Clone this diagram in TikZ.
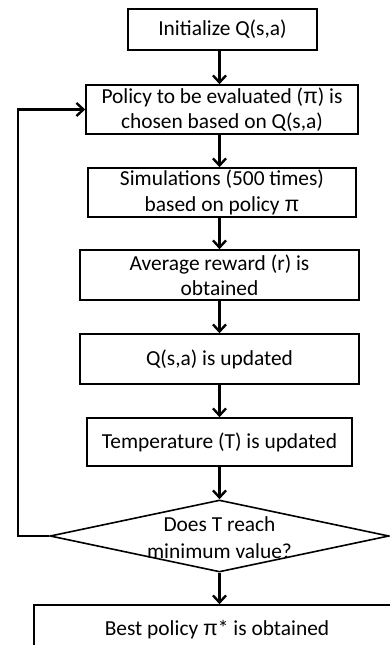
\documentclass[tikz,border=0pt]{standalone}
\usepackage{fontspec}
\setmainfont{Carlito}
\newfontfamily\pifont{Liberation Sans}
\newcommand{\mypi}{{\pifont π}}
\usetikzlibrary{shapes.geometric,arrows.meta}
\begin{document}
\begin{tikzpicture}[x=1pt,y=-1pt,
  box/.style={draw=black,line width=1.6pt,rectangle,inner sep=0pt,align=center,
    font=\fontsize{21.4}{25.5}\selectfont},
  txt/.style={inner sep=0pt,align=center,font=\fontsize{21.4}{27}\selectfont},
  arr/.style={line width=2.4pt,-{Straight Barb[length=7pt,width=13pt]}}]
\useasboundingbox (0,0) rectangle (390,645);
\begin{scope}
\clip (0,0) rectangle (390,645);
\node[box,minimum width=189pt,minimum height=41pt] (init) at (222.5,29.5) {Initialize Q(s,a)};
\node[box,minimum width=272pt,minimum height=49pt] (pol) at (222,109.5) {Policy to be evaluated (\mypi) is\\chosen based on Q(s,a)};
\node[box,minimum width=268pt,minimum height=49pt] (sim) at (222,192.5) {Simulations (500 times)\\based on policy \mypi};
\node[box,minimum width=279pt,minimum height=50pt] (avg) at (219.5,275) {Average reward (r) is\\obtained};
\node[box,minimum width=279pt,minimum height=50pt] (q) at (219.5,359) {Q(s,a) is updated};
\node[box,minimum width=265pt,minimum height=48pt] (temp) at (219.5,442) {Temperature (T) is updated};
\node[draw=black,line width=1.6pt,diamond,inner sep=0pt,minimum width=339pt,minimum height=72pt] (dia) at (219.5,536) {};
\node[txt] (dtext) at (219.5,538) {Does T reach\\minimum value?};
\node[box,minimum width=366pt,minimum height=50pt] (best) at (217,630) {Best policy \mypi* is obtained};
\coordinate (lp) at (18,0);
\draw[arr] (init.south -| dia.north) -- (pol.north -| dia.north);
\draw[arr] (pol.south -| dia.north) -- (sim.north -| dia.north);
\draw[arr] (sim.south -| dia.north) -- (avg.north -| dia.north);
\draw[arr] (avg.south -| dia.north) -- (q.north -| dia.north);
\draw[arr] (q.south -| dia.north) -- (temp.north -| dia.north);
\draw[arr] (temp.south -| dia.north) -- (dia.north);
\draw[arr] (dia.south) -- (best.north -| dia.south);
\draw[arr] (dia.west) -- (dia.west -| lp) |- (pol.west);
\end{scope}
\end{tikzpicture}
\end{document}
